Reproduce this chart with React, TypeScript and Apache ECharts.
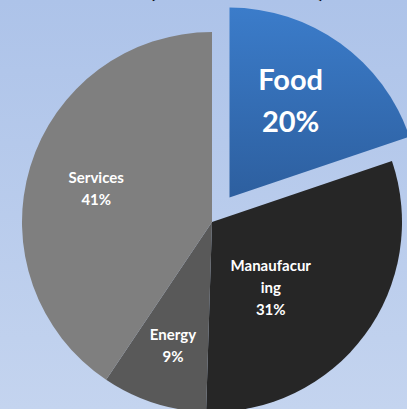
import React, { useEffect, useRef } from "react";
import * as echarts from "echarts";

// Sector shares (%)
const sectors = ["Food", "Manaufacuring", "Energy", "Services"];
const shares = [20, 31, 9, 41];
const sliceColors = ["#3a7bc8", "#262626", "#595959", "#7f7f7f"];
const titleText = "(Share of GDP)";

export default function App() {
  const ref = useRef<HTMLDivElement>(null);

  useEffect(() => {
    if (!ref.current) return;
    const chart = echarts.init(ref.current, undefined, { renderer: "svg" });

    const labelOffsets: [number, number][] = [
      [4, -18],
      [-20, 7],
      [-9, 30],
      [-22, -5],
    ];

    const data = sectors.map((name, i) => {
      const isFood = i === 0;
      const label = {
        offset: labelOffsets[i],
        fontSize: isFood ? 29 : 15,
        lineHeight: isFood ? 42 : 22,
      };
      return {
        name,
        value: shares[i],
        selected: isFood,
        itemStyle: {
          color: isFood
            ? new echarts.graphic.LinearGradient(0, 0, 0, 1, [
                { offset: 0, color: "#3b7cca" },
                { offset: 1, color: "#2d5f9f" },
              ])
            : sliceColors[i],
        },
        label,
        select: { label },
      };
    });

    chart.setOption({
      animation: false,
      backgroundColor: new echarts.graphic.LinearGradient(0, 0, 0, 1, [
        { offset: 0, color: "#adc3e9" },
        { offset: 1, color: "#c4d4ef" },
      ]),
      graphic: [
        {
          type: "text",
          x: 237,
          y: -14,
          style: {
            text: titleText,
            fill: "#000000",
            font: "bold 27px Lato",
            align: "center",
            verticalAlign: "middle",
          },
        },
      ],
      series: [
        {
          type: "pie",
          center: [212, 222],
          radius: 190,
          startAngle: 90,
          clockwise: true,
          selectedMode: "single",
          selectedOffset: 30,
          emphasis: { disabled: true },
          label: {
            show: true,
            position: "inside",
            color: "#ffffff",
            fontFamily: "Lato",
            fontWeight: "bold",
            align: "center",
            formatter: (p: any) => {
              const name: string = p.name;
              const wrapped =
                name.length > 10 ? name.slice(0, 10) + "\n" + name.slice(10) : name;
              return wrapped + "\n" + p.value + "%";
            },
          },
          labelLine: { show: false },
          data,
        },
      ],
    });

    return () => chart.dispose();
  }, []);

  return (
    <div
      ref={ref}
      style={{ position: "absolute", left: 0, top: 0, width: 407, height: 409 }}
    />
  );
}
